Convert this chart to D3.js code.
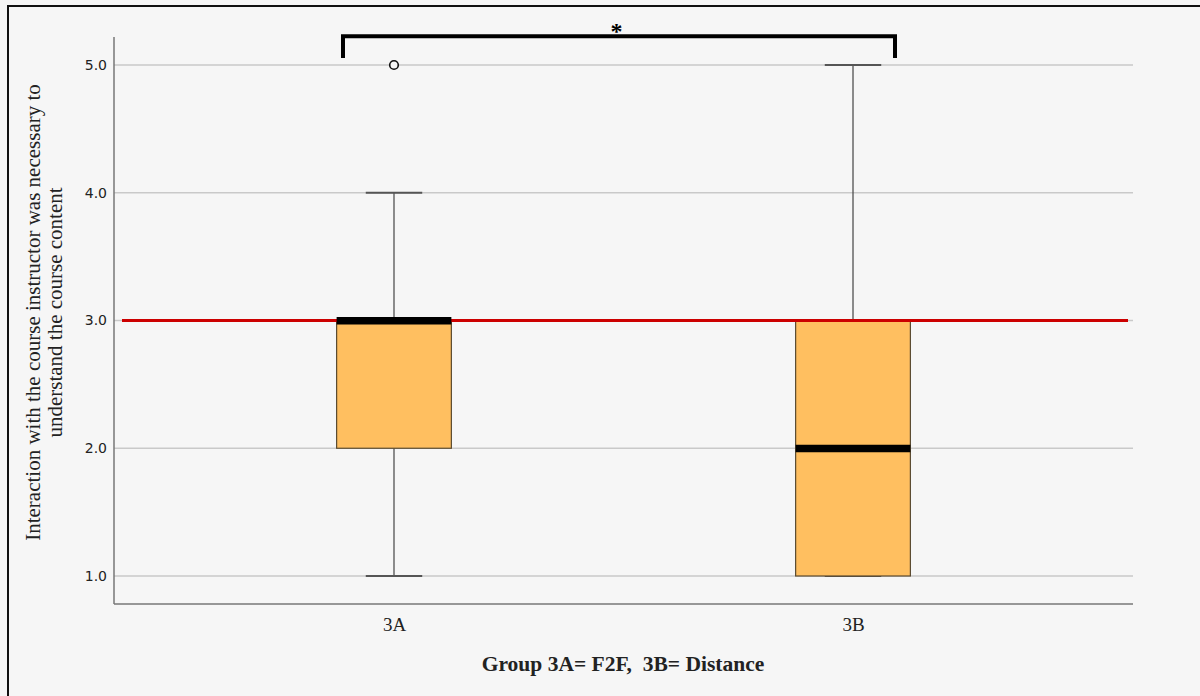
<!DOCTYPE html>
<html>
<head>
<meta charset="utf-8">
<script src="https://cdn.jsdelivr.net/npm/d3@7"></script>
<style>
  html, body { margin: 0; padding: 0; background: #f6f6f6; }
  svg { display: block; }
</style>
</head>
<body>
<svg id="chart" width="1200" height="696"></svg>
<script>
// ---- Data ----
const categories = ["3A", "3B"];
const q1Values      = [2, 1];
const medianValues  = [3, 2];
const q3Values      = [3, 3];
const whiskerLow    = [1, 1];
const whiskerHigh   = [4, 5];
const outliers      = [[5], []];
const referenceValue = 3;
const yTicks = [1, 2, 3, 4, 5];
const yTickLabels = ["1.0", "2.0", "3.0", "4.0", "5.0"];
const yTitleLines = ["Interaction with the course instructor was necessary to", "understand the course content"];
const xTitle = "Group 3A= F2F,  3B= Distance";
const sigMark = "*";

// ---- Layout ----
const svg = d3.select("#chart");
const W = 1200, H = 696;
const plotLeft = 114, plotRight = 1133, plotTop = 37, plotBottom = 604;

svg.append("rect").attr("width", W).attr("height", H).attr("fill", "#f6f6f6");
// frame
svg.append("path").attr("d", `M8,${H} L8,6 L${W},6`).attr("fill", "none")
  .attr("stroke", "#111").attr("stroke-width", 2);

const y = d3.scaleLinear().domain([1, 5]).range([576, 65]);
const x = d3.scalePoint().domain(categories).range([plotLeft, plotRight]).padding(0.61);
const step = x.step();
const boxW = step * 0.25;
const capW = step * 0.123;

// gridlines
svg.append("g").selectAll("line").data(yTicks).join("line")
  .attr("x1", plotLeft).attr("x2", plotRight)
  .attr("y1", d => y(d)).attr("y2", d => y(d))
  .attr("stroke", "#c9c9c9").attr("stroke-width", 1.5);

// y axis
const yAxis = d3.axisLeft(y).tickValues(yTicks)
  .tickFormat((d, i) => yTickLabels[i]).tickSize(0).tickPadding(7);
const gy = svg.append("g").attr("transform", `translate(${plotLeft},0)`).call(yAxis);
gy.select(".domain").remove();
gy.selectAll("text").attr("font-family", "DejaVu Sans, Verdana, sans-serif")
  .attr("font-size", 14).attr("fill", "#222");
svg.append("line").attr("x1", plotLeft).attr("x2", plotLeft)
  .attr("y1", plotTop).attr("y2", plotBottom).attr("stroke", "#777").attr("stroke-width", 1.5);

// x axis
const xAxis = d3.axisBottom(x).tickSize(0).tickPadding(14);
const gx = svg.append("g").attr("transform", `translate(0,${plotBottom})`).call(xAxis);
gx.select(".domain").attr("stroke", "#777").attr("stroke-width", 1.5)
  .attr("d", `M${plotLeft},0H${plotRight}`);
gx.selectAll("text").attr("font-family", "Liberation Serif, Times New Roman, serif")
  .attr("font-size", 19).attr("fill", "#222");

// boxes
const boxes = categories.map((c, i) => ({
  c, q1: q1Values[i], med: medianValues[i], q3: q3Values[i],
  lo: whiskerLow[i], hi: whiskerHigh[i], out: outliers[i]
}));
const g = svg.append("g");
boxes.forEach(b => {
  const cx = x(b.c);
  // whiskers
  if (b.hi > b.q3) g.append("line").attr("x1", cx).attr("x2", cx)
    .attr("y1", y(b.q3)).attr("y2", y(b.hi)).attr("stroke", "#444").attr("stroke-width", 1.2);
  if (b.lo < b.q1) g.append("line").attr("x1", cx).attr("x2", cx)
    .attr("y1", y(b.q1)).attr("y2", y(b.lo)).attr("stroke", "#444").attr("stroke-width", 1.2);
  // caps
  [b.lo, b.hi].forEach(v => {
    g.append("line").attr("x1", cx - capW / 2).attr("x2", cx + capW / 2)
      .attr("y1", y(v)).attr("y2", y(v)).attr("stroke", "#555").attr("stroke-width", 1.8);
  });
  // box
  g.append("rect").attr("x", cx - boxW / 2).attr("width", boxW)
    .attr("y", y(b.q3)).attr("height", y(b.q1) - y(b.q3))
    .attr("fill", "#ffbf60").attr("stroke", "#5a4a30").attr("stroke-width", 1.2);
  // outliers
  b.out.forEach(v => {
    g.append("circle").attr("cx", cx).attr("cy", y(v)).attr("r", 4.3)
      .attr("fill", "#f6f6f6").attr("stroke", "#111").attr("stroke-width", 1.6);
  });
});

// reference line
svg.append("line").attr("x1", 122).attr("x2", 1128)
  .attr("y1", y(referenceValue)).attr("y2", y(referenceValue))
  .attr("stroke", "#cc0000").attr("stroke-width", 3);

// medians (on top)
boxes.forEach(b => {
  const cx = x(b.c);
  svg.append("rect").attr("x", cx - boxW / 2).attr("width", boxW)
    .attr("y", y(b.med) - 3.5).attr("height", 7.5).attr("fill", "#000");
});

// significance bracket
const bL = x(categories[0]) - 51, bR = x(categories[1]) + 42;
const bTop = y(5.225), bBot = y(5.055);
svg.append("path").attr("d", `M${bL},${bBot} V${bTop} H${bR} V${bBot}`)
  .attr("fill", "none").attr("stroke", "#000").attr("stroke-width", 4);
svg.append("text").attr("x", (x(categories[0]) + x(categories[1])) / 2 - 7).attr("y", 39)
  .attr("text-anchor", "middle").attr("font-family", "Liberation Serif, Times New Roman, serif")
  .attr("font-weight", "bold").attr("font-size", 24).attr("fill", "#000").text(sigMark);

// y title
const yt = svg.append("text")
  .attr("transform", `translate(33,${(y(1) + y(5)) / 2 - 8}) rotate(-90)`)
  .attr("text-anchor", "middle").attr("font-family", "Liberation Serif, Times New Roman, serif")
  .attr("font-size", 21).attr("fill", "#222");
yTitleLines.forEach((t, i) => {
  yt.append("tspan").attr("x", 0).attr("dy", i === 0 ? "0.35em" : "1.05em").text(t);
});

// x title
svg.append("text").attr("x", 623).attr("y", 671).attr("text-anchor", "middle")
  .attr("font-family", "Liberation Serif, Times New Roman, serif")
  .attr("font-weight", "bold").attr("font-size", 21.5).attr("fill", "#222")
  .attr("xml:space", "preserve").style("white-space", "pre").text(xTitle);
</script>
</body>
</html>
